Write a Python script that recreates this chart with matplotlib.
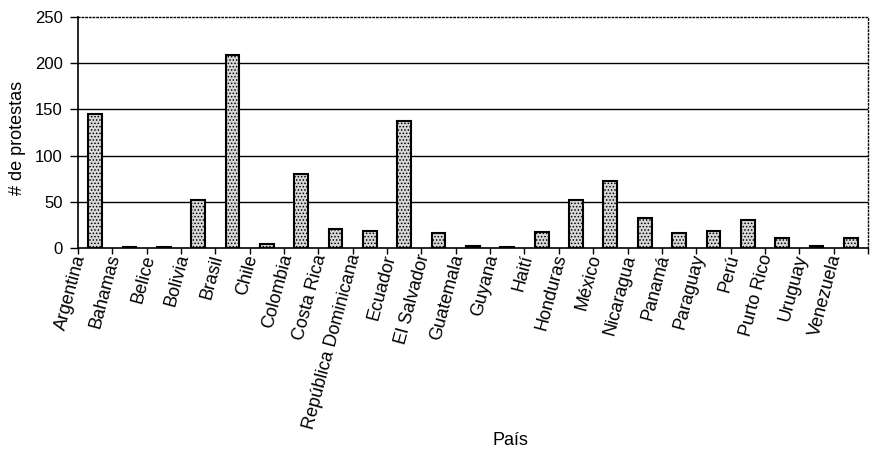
import numpy as np
import matplotlib
matplotlib.use('Agg')
import matplotlib.pyplot as plt
import matplotlib.transforms as mtransforms

plt.rcParams['font.family'] = ['Liberation Sans', 'DejaVu Sans']
plt.rcParams['hatch.color'] = '#707070'
plt.rcParams['hatch.linewidth'] = 0.7

paises = ['Argentina', 'Bahamas', 'Belice', 'Bolivia', 'Brasil', 'Chile',
          'Colombia', 'Costa Rica', 'República Dominicana', 'Ecuador',
          'El Salvador', 'Guatemala', 'Guyana', 'Haití', 'Honduras', 'México',
          'Nicaragua', 'Panamá', 'Paraguay', 'Perú', 'Purto Rico', 'Uruguay',
          'Venezuela']
protestas = [145, 1, 1, 52, 209, 5, 80, 21, 19, 137, 17, 3, 1, 18, 52, 73,
             33, 17, 19, 31, 11, 3, 11]
yticks = [0, 50, 100, 150, 200, 250]

fig = plt.figure(figsize=(8.72, 4.5), dpi=100)
ax = fig.add_axes([0.0894, 0.448, 0.9060, 0.515])

x = np.arange(len(paises))
# lineas de referencia detras de las barras
for v in yticks[1:-1]:
    ax.axhline(v, color='black', lw=1.0, zorder=1)
ax.bar(x, protestas, width=0.4, color='#d8d8d8', edgecolor='black',
       linewidth=1.5, hatch='.....', zorder=3)

ax.set_xlim(-0.5, len(paises) - 0.5)
ax.set_ylim(0, 250)
ax.set_yticks(yticks)
ax.set_yticklabels([str(v) for v in yticks], fontsize=12)

ax.set_xticks(x)
ax.set_xticklabels(paises, rotation=75, ha='right', fontsize=13)
ax.set_xticks(np.arange(len(paises) + 1) - 0.5, minor=True)
ax.tick_params(axis='x', which='major', length=0, pad=3)
ax.tick_params(axis='x', which='minor', length=4, width=1, direction='out')
ax.tick_params(axis='y', length=6, width=1, direction='out', pad=5)
off = mtransforms.ScaledTranslation(-6 / 100, 0, fig.dpi_scale_trans)
for lab in ax.get_xticklabels():
    lab.set_transform(lab.get_transform() + off)

ax.spines['left'].set_linewidth(1.2)
ax.spines['bottom'].set_linewidth(1.2)
ax.spines['top'].set_linestyle(':')
ax.spines['top'].set_linewidth(1.0)
ax.spines['right'].set_linestyle(':')
ax.spines['right'].set_linewidth(1.0)

ax.set_ylabel('# de protestas', fontsize=13)
ax.yaxis.set_label_coords(-0.066, 0.476)
fig.text(0.585, 0.022, 'País', fontsize=13, ha='center', va='center')

plt.savefig('out.png', dpi=100)
